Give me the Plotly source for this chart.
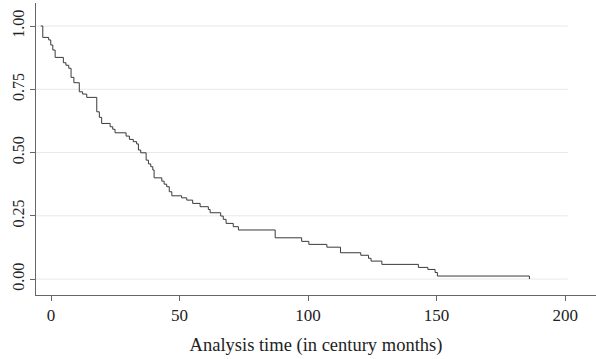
import plotly.graph_objects as go

# Kaplan-Meier style step curve
times = [-4.0, -3.2, -0.9, -0.1, 0.7, 1.6, 4.8, 5.8, 6.9, 7.8, 8.9, 11.0, 12.3, 13.9,
         17.8, 18.8, 19.7, 23.0, 24.0, 24.9, 29.2, 30.5, 32.0, 33.3, 34.0, 34.9, 37.0,
         37.9, 38.8, 39.6, 40.1, 43.1, 44.0, 45.0, 46.0, 47.0, 50.8, 52.8, 55.1, 58.0,
         61.2, 61.9, 66.0, 67.0, 68.1, 70.9, 72.9, 87.2, 97.5, 100.3, 107.3, 112.6,
         120.5, 123.5, 124.5, 128.7, 142.9, 146.6, 149.4, 150.3, 186.1]
survival = [1.0, 0.955, 0.945, 0.925, 0.905, 0.876, 0.855, 0.845, 0.833, 0.797, 0.776,
            0.740, 0.731, 0.718, 0.661, 0.639, 0.615, 0.602, 0.592, 0.578, 0.565, 0.552,
            0.543, 0.534, 0.510, 0.499, 0.470, 0.455, 0.444, 0.431, 0.400, 0.387, 0.375,
            0.365, 0.345, 0.329, 0.321, 0.312, 0.299, 0.286, 0.275, 0.262, 0.249, 0.236,
            0.220, 0.207, 0.194, 0.163, 0.149, 0.137, 0.126, 0.104, 0.094, 0.082, 0.071,
            0.058, 0.046, 0.038, 0.026, 0.012, 0.0]

x_ticks = [0, 50, 100, 150, 200]
y_ticks = [0.0, 0.25, 0.5, 0.75, 1.0]
y_tick_labels = ["0.00", "0.25", "0.50", "0.75", "1.00"]
x_title = "Analysis time (in century months)"

x_range = [-5.84, 212.0]
y_range = [-0.063, 1.091]
grid_end = 201.0

font_family = "Liberation Serif, Times New Roman, serif"

fig = go.Figure()

# gridlines
shapes = []
for yv in y_ticks:
    shapes.append(dict(type="line", xref="x", yref="y", x0=x_range[0], x1=grid_end,
                       y0=yv, y1=yv, line=dict(color="#e8e8e8", width=1), layer="below"))

fig.add_trace(go.Scatter(
    x=times, y=survival, mode="lines", line_shape="hv",
    line=dict(color="#3a3a3a", width=1), showlegend=False, hoverinfo="skip"))

fig.update_layout(
    width=596, height=359,
    margin=dict(l=36, r=0, t=3, b=64, autoexpand=False),
    paper_bgcolor="white", plot_bgcolor="white",
    font=dict(family=font_family, size=16, color="#222"),
    shapes=shapes,
    xaxis=dict(range=x_range, tickvals=x_ticks, showgrid=False, zeroline=False,
               automargin=False,
               showline=True, linecolor="#666", linewidth=1,
               ticks="outside", ticklen=5, tickcolor="#666",
               tickfont=dict(size=17, family=font_family, color="#222"),
               title=dict(text=x_title, font=dict(size=18.5, family=font_family, color="#222"),
                          standoff=13)),
    yaxis=dict(range=y_range, tickvals=y_ticks, ticktext=y_tick_labels, showgrid=False,
               automargin=False,
               zeroline=False, showline=True, linecolor="#666", linewidth=1,
               ticks="outside", ticklen=5, tickcolor="#666", tickangle=-90,
               tickfont=dict(size=16, family=font_family, color="#222")),
)

fig.write_html("out.html", config={"displayModeBar": False},
               post_script="document.body.style.margin='0';document.body.style.overflow='hidden';")
